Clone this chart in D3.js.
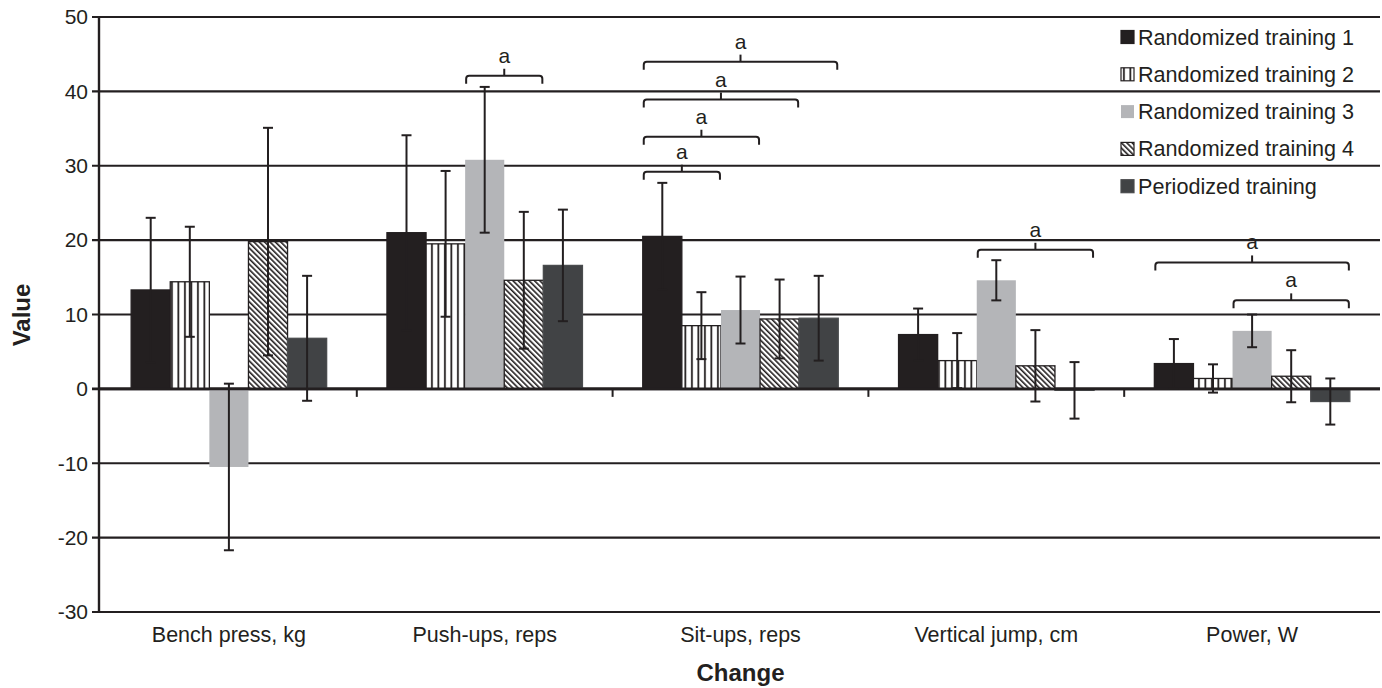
<!DOCTYPE html>
<html>
<head>
<meta charset="utf-8">
<script src="https://cdn.jsdelivr.net/npm/d3@7"></script>
<style>
  body { margin: 0; background: #fff; }
  text { font-family: "Liberation Sans", Arial, sans-serif; fill: #231f20; }
</style>
</head>
<body>
<script>
// data
var categories = ["Bench press, kg", "Push-ups, reps", "Sit-ups, reps", "Vertical jump, cm", "Power, W"];
var seriesNames = ["Randomized training 1", "Randomized training 2", "Randomized training 3", "Randomized training 4", "Periodized training"];

var rt1 = [13.3, 21.0, 20.5, 7.3, 3.4];
var rt2 = [14.4, 19.5, 8.5, 3.8, 1.4];
var rt3 = [-10.5, 30.8, 10.6, 14.6, 7.8];
var rt4 = [19.8, 14.6, 9.4, 3.1, 1.7];
var pt  = [6.8, 16.6, 9.5, -0.2, -1.7];

var rt1Err = [9.7, 13.1, 7.2, 3.5, 3.3];
var rt2Err = [7.4, 9.8, 4.5, 3.7, 1.9];
var rt3Err = [11.2, 9.8, 4.5, 2.7, 2.2];
var rt4Err = [15.3, 9.2, 5.3, 4.8, 3.5];
var ptErr  = [8.4, 7.5, 5.7, 3.8, 3.1];

var yTicks = [-30, -20, -10, 0, 10, 20, 30, 40, 50];

// significance brackets: category, first bar, last bar, height (value units)
var brackets = [
  {cat: 1, from: 2, to: 3, level: 42.1},
  {cat: 2, from: 0, to: 1, level: 29.2},
  {cat: 2, from: 0, to: 2, level: 33.9},
  {cat: 2, from: 0, to: 3, level: 38.9},
  {cat: 2, from: 0, to: 4, level: 44.0},
  {cat: 3, from: 2, to: 4, level: 18.7},
  {cat: 4, from: 0, to: 4, level: 17.0},
  {cat: 4, from: 2, to: 4, level: 11.9}
];

var values = [rt1, rt2, rt3, rt4, pt];
var errors = [rt1Err, rt2Err, rt3Err, rt4Err, ptErr];

var width = 1382;
var height = 688;
var ink = "#231f20";

var svg = d3.select("body")
  .append("svg")
  .attr("width", width)
  .attr("height", height);

var defs = svg.append("defs");

var vstripe = defs.append("pattern")
  .attr("id", "vstripe")
  .attr("patternUnits", "userSpaceOnUse")
  .attr("width", 6.5)
  .attr("height", 10);
vstripe.append("rect").attr("width", 6.5).attr("height", 10).attr("fill", "#fff");
vstripe.append("rect").attr("x", 2).attr("width", 1.8).attr("height", 10).attr("fill", ink);

var hatch = defs.append("pattern")
  .attr("id", "hatch")
  .attr("patternUnits", "userSpaceOnUse")
  .attr("width", 3.8)
  .attr("height", 10)
  .attr("patternTransform", "rotate(-45)");
hatch.append("rect").attr("width", 3.8).attr("height", 10).attr("fill", "#fff");
hatch.append("rect").attr("width", 1.6).attr("height", 10).attr("fill", ink);

var fills = [ink, "url(#vstripe)", "#b4b5b8", "url(#hatch)", "#414345"];
var strokes = [ink, ink, "none", ink, "#4a4c4e"];

var x0 = d3.scaleBand()
  .domain(categories)
  .range([101, 1380]);

var x1 = d3.scaleBand()
  .domain(d3.range(seriesNames.length))
  .range([0, 195.5]);

var groupOffset = (x0.bandwidth() - 195.5) / 2;

var y = d3.scaleLinear()
  .domain([-30, 50])
  .range([612, 17]);

function barX(c, s) {
  return x0(categories[c]) + groupOffset + x1(s);
}

// horizontal grid lines
svg.append("g")
  .selectAll("line")
  .data(yTicks)
  .join("line")
  .attr("x1", 92)
  .attr("x2", 1380)
  .attr("y1", d => y(d))
  .attr("y2", d => y(d))
  .attr("stroke", ink)
  .attr("stroke-width", d => d === 0 ? 2.6 : 2.1);

// y tick labels
svg.append("g")
  .selectAll("text")
  .data(yTicks)
  .join("text")
  .attr("x", 88)
  .attr("y", d => y(d))
  .attr("dy", "0.35em")
  .attr("text-anchor", "end")
  .attr("font-size", 21)
  .text(d => d);

// bars
values.forEach(function(vals, s) {
  svg.append("g")
    .selectAll("rect")
    .data(vals)
    .join("rect")
    .attr("x", (d, c) => barX(c, s))
    .attr("width", x1.bandwidth())
    .attr("y", d => y(Math.max(0, d)))
    .attr("height", d => Math.abs(y(d) - y(0)))
    .attr("fill", fills[s])
    .attr("stroke", strokes[s])
    .attr("stroke-width", 1.3);
});

// redraw zero line over bars
svg.append("line")
  .attr("x1", 99).attr("x2", 1380)
  .attr("y1", y(0)).attr("y2", y(0))
  .attr("stroke", ink)
  .attr("stroke-width", 2.6);

// category ticks under zero line
svg.append("g")
  .selectAll("line")
  .data(categories.slice(1))
  .join("line")
  .attr("x1", d => x0(d))
  .attr("x2", d => x0(d))
  .attr("y1", y(0))
  .attr("y2", y(0) + 8)
  .attr("stroke", ink)
  .attr("stroke-width", 2);

// error bars
values.forEach(function(vals, s) {
  var g = svg.append("g");
  vals.forEach(function(v, c) {
    var cx = barX(c, s) + x1.bandwidth() / 2;
    var e = errors[s][c];
    g.append("line")
      .attr("x1", cx).attr("x2", cx)
      .attr("y1", y(v + e)).attr("y2", y(v - e))
      .attr("stroke", ink).attr("stroke-width", 2);
    [v + e, v - e].forEach(function(t) {
      g.append("line")
        .attr("x1", cx - 5).attr("x2", cx + 5)
        .attr("y1", y(t)).attr("y2", y(t))
        .attr("stroke", ink).attr("stroke-width", 2);
    });
  });
});

// y axis line
svg.append("line")
  .attr("x1", 99).attr("x2", 99)
  .attr("y1", y(50)).attr("y2", y(-30) + 1)
  .attr("stroke", ink)
  .attr("stroke-width", 2.4);

// significance brackets
brackets.forEach(function(b) {
  var xa = barX(b.cat, b.from) + 1;
  var xb = barX(b.cat, b.to) + x1.bandwidth() - 1;
  var yy = y(b.level);
  var xm = (xa + xb) / 2;
  var r = 3;
  var path = "M" + xa + "," + (yy + 8) +
    " L" + xa + "," + (yy + r) +
    " Q" + xa + "," + yy + " " + (xa + r) + "," + yy +
    " L" + (xb - r) + "," + yy +
    " Q" + xb + "," + yy + " " + xb + "," + (yy + r) +
    " L" + xb + "," + (yy + 8);
  svg.append("path")
    .attr("d", path)
    .attr("fill", "none")
    .attr("stroke", ink)
    .attr("stroke-width", 2);
  svg.append("line")
    .attr("x1", xm).attr("x2", xm)
    .attr("y1", yy).attr("y2", yy - 7)
    .attr("stroke", ink)
    .attr("stroke-width", 2);
  svg.append("text")
    .attr("x", xm)
    .attr("y", yy - 13)
    .attr("text-anchor", "middle")
    .attr("font-size", 21)
    .text("a");
});

// category labels
svg.append("g")
  .selectAll("text")
  .data(categories)
  .join("text")
  .attr("x", d => x0(d) + x0.bandwidth() / 2)
  .attr("y", 634)
  .attr("dy", "0.35em")
  .attr("text-anchor", "middle")
  .attr("font-size", 21.5)
  .text(d => d);

// axis titles
svg.append("text")
  .attr("x", 740.5)
  .attr("y", 673)
  .attr("dy", "0.35em")
  .attr("text-anchor", "middle")
  .attr("font-size", 24)
  .attr("font-weight", "bold")
  .text("Change");

svg.append("text")
  .attr("transform", "translate(22,315) rotate(-90)")
  .attr("dy", "0.35em")
  .attr("text-anchor", "middle")
  .attr("font-size", 24)
  .attr("font-weight", "bold")
  .text("Value");

// legend
var legend = svg.append("g")
  .selectAll("g")
  .data(seriesNames)
  .join("g")
  .attr("transform", (d, i) => "translate(1121," + (37 + i * 37.3) + ")");

legend.append("rect")
  .attr("x", 0)
  .attr("y", -6.5)
  .attr("width", 13)
  .attr("height", 13)
  .attr("fill", (d, i) => fills[i])
  .attr("stroke", (d, i) => strokes[i])
  .attr("stroke-width", 1.2);

legend.append("text")
  .attr("x", 17)
  .attr("dy", "0.35em")
  .attr("font-size", 21.6)
  .text(d => d);
</script>
</body>
</html>
